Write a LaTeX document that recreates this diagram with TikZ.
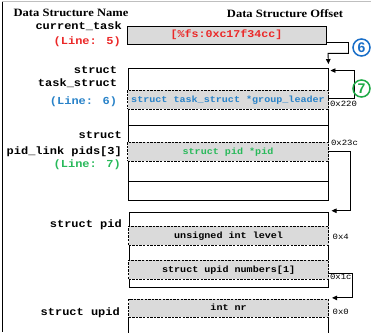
\documentclass[tikz,border=0pt]{standalone}
\usepackage{fontspec}
\usetikzlibrary{arrows.meta,calc}
\setmainfont{Liberation Serif}
\newfontfamily\hdrfont[FakeStretch=1.12]{Liberation Serif}
\newfontfamily\monofont[FakeStretch=1.12]{Liberation Mono}
\newfontfamily\numfont{Liberation Sans}
\definecolor{cred}{RGB}{235,40,40}
\definecolor{cblue}{RGB}{40,130,200}
\definecolor{cgreen}{RGB}{40,185,90}
\definecolor{cgrey}{RGB}{218,218,218}
\definecolor{circblue}{RGB}{25,110,200}
\definecolor{circgreen}{RGB}{30,170,70}
\tikzset{
  header/.style={inner sep=0, font=\hdrfont\bfseries\fontsize{11.2}{13}\selectfont},
  lbl/.style={anchor=east, inner sep=0, text height=0.62em, text depth=0.12em,
    font=\monofont\bfseries\fontsize{10.7}{12}\selectfont},
  boxline/.style={draw=black, line width=0.9pt},
  plainbox/.style={boxline, rectangle, inner sep=0},
  greybox/.style={plainbox, fill=cgrey},
  row/.style={rectangle, inner sep=0, fill=cgrey, draw=black, line width=0.8pt,
    dash pattern=on 2.4pt off 1.2pt, minimum height=19pt, text height=0.62em, text depth=0.12em,
    font=\monofont\bfseries\fontsize{9}{10}\selectfont},
  offs/.style={anchor=west, inner sep=0, font=\monofont\fontsize{8}{9}\selectfont},
  ptr/.style={draw=black, line width=0.9pt, -{Triangle[length=5pt,width=4.5pt]}},
  step num/.style={circle, line width=1.5pt, minimum size=17pt, inner sep=0,
    font=\numfont\bfseries\fontsize{14}{15}\selectfont}
}
\begin{document}
\begin{tikzpicture}[x=1pt,y=-1pt]
\useasboundingbox (0,0) rectangle (371,332);

% page frame
\draw[line width=0.8pt] (2.3,1.2) -- (2.3,332);
\draw[line width=0.4pt, black!25] (2.3,1.2) -- (371,1.2);

% column headings
\node[header] (hname) at (71,13.3) {Data Structure Name};
\node[header] (hoff) at (285,13.3) {Data Structure Offset};

% current_task
\node[greybox, minimum width=199pt, minimum height=18pt, text=cred,
  text height=0.62em, text depth=0.12em,
  font=\monofont\bfseries\fontsize{10.4}{12}\selectfont] (cur) at (226.5,35) {[\%fs:0xc17f34cc]};
\node[lbl] (lcur) at (122,26.5) {current\_task};
\node[lbl, text=cred] (lline5) at (121,42) {(Line: 5)};

% task_struct
\node[plainbox, minimum width=200pt, minimum height=132pt] (ts) at (228,134) {};
\node[plainbox, minimum width=200pt, minimum height=56pt] (pids) at (228,153) {};
\node[row, minimum width=201pt, text=cblue] (gl) at (228,99.5) {struct task\_struct *group\_leader};
\node[row, minimum width=201pt, text=cgreen] (pidp) at (228,151.5) {struct pid *pid};
\node[lbl] (lts1) at (117.3,70.7) {struct};
\node[lbl] (lts2) at (117.3,84) {task\_struct};
\node[lbl, text=cblue] (lline6) at (117.3,101.7) {(Line: 6)};
\node[lbl] (lpl1) at (122,136) {struct};
\node[lbl] (lpl2) at (122,152.3) {pid\_link pids[3]};
\node[lbl, text=cgreen] (lline7) at (121,165) {(Line: 7)};
\node[offs] (o220) at (329.8,104) {0x220};
\node[offs] (o23c) at (330.8,142.7) {0x23c};

% struct pid
\node[plainbox, minimum width=199pt, minimum height=75pt] (pid) at (228.6,250.2) {};
\node[row, minimum width=200pt] (lvl) at (228.6,235.5) {unsigned int level};
\node[row, minimum width=200pt] (num) at (228.6,269.5) {struct upid numbers[1]};
\node[lbl] (lpid) at (122,225) {struct pid};
\node[offs] (o4) at (332.5,237.3) {0x4};
\node[offs] (o1c) at (329.8,276.7) {0x1c};

% struct upid
\node[row, minimum width=200pt, minimum height=18pt] (nr) at (228.6,308.3) {int nr};
\draw[boxline] ($(nr.south west)+(0.5,0)$) -- ++(0,20);
\draw[boxline] ($(nr.south east)+(-0.5,0)$) -- ++(0,20);
\node[lbl] (lupid) at (120,312.7) {struct upid};
\node[offs] (o0) at (332.5,311.7) {0x0};

% pointers
\draw[ptr] ($(cur.south east)+(0,-2)$) -- ++(22,0) |- (328,53.3) -- ($(ts.north east)+(0,-3.5)$);
\draw[ptr] ($(gl.east)+(-0.5,-1.5)$) -- ++(26,0) |- ($(ts.north east)+(2,3)$);
\draw[ptr] ($(pidp.east)+(-0.5,-0.5)$) -- ++(22,0) |- ($(pid.north east)+(3,-1.5)$);
\draw[ptr] ($(num.east)+(-0.5,3.8)$) -- ++(23.5,0) |- ($(nr.north east)+(3,-1)$);

% step markers
\node[step num, draw=circblue, text=circblue] (s6) at (361.5,47.5) {6};
\node[step num, draw=circgreen, text=circgreen] (s7) at (361.5,88.5) {7};
\end{tikzpicture}
\end{document}
